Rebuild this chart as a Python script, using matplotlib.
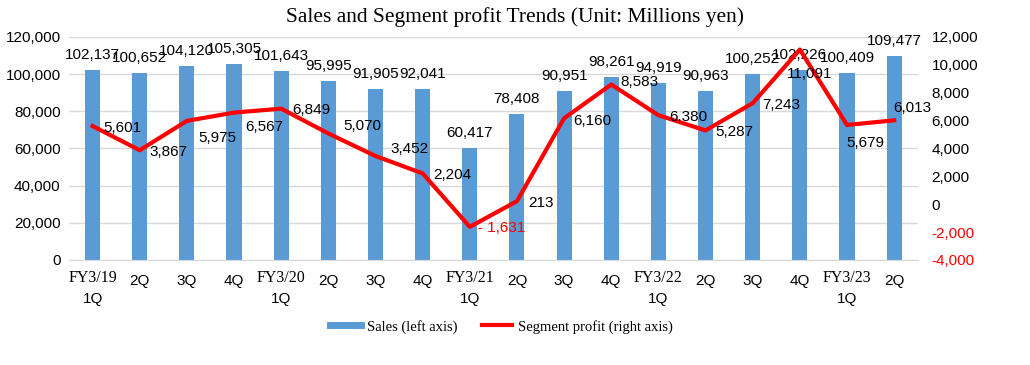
import numpy as np
import matplotlib.pyplot as plt
from matplotlib.lines import Line2D

quarters = ["FY3/19\n1Q", "2Q", "3Q", "4Q", "FY3/20\n1Q", "2Q", "3Q", "4Q",
            "FY3/21\n1Q", "2Q", "3Q", "4Q", "FY3/22\n1Q", "2Q", "3Q", "4Q",
            "FY3/23\n1Q", "2Q"]
sales = [102137, 100652, 104120, 105305, 101643, 95995, 91905, 92041, 60417,
         78408, 90951, 98261, 94919, 90963, 100252, 102226, 100409, 109477]
profit = [5601, 3867, 5975, 6567, 6849, 5070, 3452, 2204, -1631,
          213, 6160, 8583, 6380, 5287, 7243, 11091, 5679, 6013]

# where each profit label sits relative to its point (pixels)
p_off = [(30, -2), (29, -2), (30, -17), (30, -14), (30, -1), (34, 7), (34, 7),
         (30, -2), (32, -1), (24, -2), (28, -3), (28, 2), (30, -2), (29, -2),
         (29, -2), (10, -24), (18, -18), (18, 12)]

blue = "#5B9BD5"
red = "#FF0000"
serif = "Liberation Serif"
sans = "Liberation Sans"

fig = plt.figure(figsize=(10.3, 3.65), dpi=100)
ax = fig.add_axes([0.067, 0.288, 0.824, 0.611])
x = np.arange(len(quarters))

ax.bar(x, sales, width=0.32, color=blue, zorder=2)
ax.set_ylim(0, 120000)
ax.set_xlim(-0.5, len(quarters) - 0.5)
ax.set_yticks(np.arange(0, 120001, 20000))
ax.set_yticklabels([f"{v:,}" for v in range(0, 120001, 20000)], fontfamily=sans, fontsize=11)
ax.grid(axis="y", color="#d9d9d9", lw=1, zorder=0)
ax.set_axisbelow(True)
for s in ["top", "right", "left"]:
    ax.spines[s].set_visible(False)
ax.spines["bottom"].set_color("#d9d9d9")
ax.tick_params(axis="y", length=0, pad=6)
ax.tick_params(axis="x", length=0, pad=10)

# quarter part in sans, fiscal-year part in serif above it
ax.set_xticks(x)
q_labels = []
for i, q in enumerate(quarters):
    parts = q.split("\n")
    if len(parts) == 2:
        q_labels.append("")
        ax.annotate(parts[0], (x[i], 0), xycoords=("data", "axes fraction"),
                    xytext=(0, -18), textcoords="offset pixels", ha="center", va="center",
                    fontfamily=serif, fontsize=11.5)
        ax.annotate(parts[1], (x[i], 0), xycoords=("data", "axes fraction"),
                    xytext=(0, -39), textcoords="offset pixels", ha="center", va="center",
                    fontfamily=sans, fontsize=11)
    else:
        q_labels.append(parts[0])
ax.set_xticklabels(q_labels, fontfamily=sans, fontsize=11)

for i, v in enumerate(sales):
    ax.annotate(f"{v:,}", (x[i], v), xytext=(0, 15), textcoords="offset pixels",
                ha="center", va="center", fontfamily=sans, fontsize=11)

ax2 = ax.twinx()
ax2.plot(x, profit, color=red, lw=3, zorder=3)
ax2.set_ylim(-4000, 12000)
ax2.set_yticks(np.arange(-4000, 12001, 2000))
ax2.set_yticklabels([f"{v:,}" for v in range(-4000, 12001, 2000)], fontfamily=sans, fontsize=11)
for t in ax2.get_yticklabels():
    if t.get_text().startswith("-"):
        t.set_color(red)
for s in ["top", "right", "left", "bottom"]:
    ax2.spines[s].set_visible(False)
ax2.tick_params(length=0, pad=10)

for i, v in enumerate(profit):
    txt = f"{v:,}" if v >= 0 else f"- {abs(v):,}"
    ax2.annotate(txt, (x[i], v), xytext=p_off[i], textcoords="offset pixels",
                 ha="center", va="center", fontfamily=sans, fontsize=11,
                 color=red if v < 0 else "black")

fig.suptitle("Sales and Segment profit Trends (Unit: Millions yen)", x=0.5, y=0.98,
             fontfamily=serif, fontsize=15.5)

handles = [Line2D([], [], color=blue, lw=5), Line2D([], [], color=red, lw=3)]
fig.legend(handles, ["Sales (left axis)", "Segment profit (right axis)"], loc="center",
           bbox_to_anchor=(0.487, 0.105), ncol=2, frameon=False,
           prop={"family": serif, "size": 10.5}, handlelength=2.1, handletextpad=0.4,
           columnspacing=1.7)

plt.savefig("out.png")
